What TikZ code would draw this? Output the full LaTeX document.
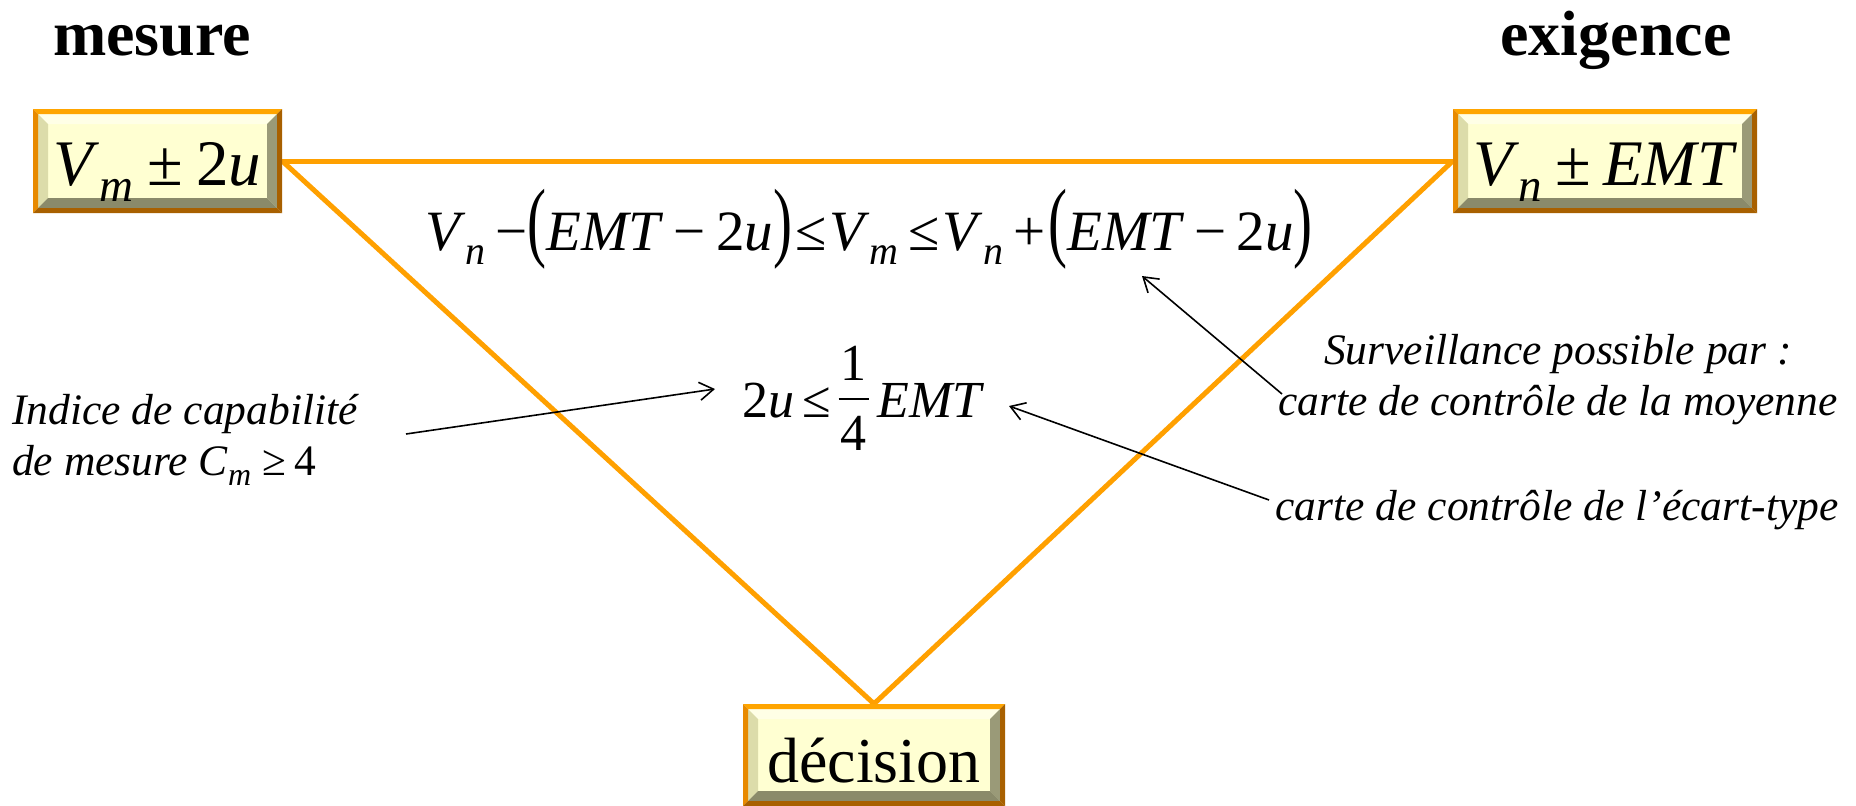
\documentclass[tikz,border=0pt]{standalone}
\usepackage{fontspec}
\setmainfont{Liberation Serif}
\usepackage{graphicx}
\usetikzlibrary{arrows.meta,calc,backgrounds}
\definecolor{ortop}{HTML}{FFA500}
\definecolor{orleft}{HTML}{E88A00}
\definecolor{orbot}{HTML}{A86000}
\definecolor{bvtop}{HTML}{FFFFE6}
\definecolor{bvleft}{HTML}{DCDCAA}
\definecolor{bvright}{HTML}{9A9A78}
\definecolor{bvbot}{HTML}{8A8A6A}
\definecolor{face}{HTML}{FFFFD2}
\definecolor{triline}{HTML}{FFA000}
\newcommand\fsz[1]{\fontsize{#1}{#1}\selectfont}
\newcommand\bigp[1]{\raisebox{0pt}{\scalebox{1}[1.55]{#1}}}
\newcommand\myfrac[2]{\makebox[30pt][l]{%
  \rlap{\makebox[30pt]{\raisebox{37pt}{#1}}}%
  \rlap{\makebox[30pt]{\raisebox{-33pt}{#2}}}%
  \rlap{\raisebox{17pt}{\rule{30pt}{2pt}}}}}
\newcommand\bevfill{%
  \path (path picture bounding box.north west) coordinate (bNW)
        (path picture bounding box.north east) coordinate (bNE)
        (path picture bounding box.south west) coordinate (bSW)
        (path picture bounding box.south east) coordinate (bSE);
  \fill[bvtop] ($(bNW)+(5,5)$) -- ($(bNE)+(-5,5)$) -- ($(bNE)+(-15,15)$) -- ($(bNW)+(15,15)$) -- cycle;
  \fill[bvleft] ($(bNW)+(5,5)$) -- ($(bNW)+(15,15)$) -- ($(bSW)+(15,-15)$) -- ($(bSW)+(5,-5)$) -- cycle;
  \fill[bvright] ($(bNE)+(-5,5)$) -- ($(bSE)+(-5,-5)$) -- ($(bSE)+(-15,-15)$) -- ($(bNE)+(-15,15)$) -- cycle;
  \fill[bvbot] ($(bSW)+(5,-5)$) -- ($(bSE)+(-5,-5)$) -- ($(bSE)+(-15,-15)$) -- ($(bSW)+(15,-15)$) -- cycle;
  \fill[ortop] (bNW) -- (bNE) -- ($(bNE)+(-5,5)$) -- ($(bNW)+(5,5)$) -- cycle;
  \fill[orleft] (bNW) -- ($(bNW)+(5,5)$) -- ($(bSW)+(5,-5)$) -- (bSW) -- cycle;
  \fill[orbot] (bNE) -- (bSE) -- ($(bSE)+(-5,-5)$) -- ($(bNE)+(-5,5)$) -- cycle;
  \fill[orbot] (bSW) -- (bSE) -- ($(bSE)+(-5,-5)$) -- ($(bSW)+(5,-5)$) -- cycle;
}
\tikzset{
  title/.style={font=\fsz{64}\bfseries, inner sep=0},
  bevelbox/.style={inner sep=0, fill=face, path picture={\bevfill}, font=\fsz{65}},
  tri/.style={draw=triline, line width=5pt},
  arr/.style={-{Straight Barb[length=14pt,width=18pt]}, line width=1.6pt},
  note/.style={font=\fontsize{43.5}{51}\selectfont\itshape, inner sep=0},
}
\begin{document}
\begin{tikzpicture}[x=1pt,y=-1pt]
\useasboundingbox (0,0) rectangle (1856,806);
% titles
\node[title, anchor=base] (tmes) at (152,55) {mesure};
\node[title, anchor=base] (texi) at (1616,55) {exigence};
% boxes
\node[bevelbox, minimum width=249, minimum height=104, text height=48, text depth=0] (vm) at (157.5,161)
  {\textit{V}\raisebox{-16pt}{\fsz{47}\textit{m}}\kern14pt±\kern13pt2\textit{u}};
\node[bevelbox, minimum width=304, minimum height=104, text height=48, text depth=0] (vn) at (1605,161)
  {\textit{V}\raisebox{-16pt}{\fsz{47}\textit{n}}\kern13pt±\kern12pt\textit{EMT}};
\node[bevelbox, minimum width=262, minimum height=102, text height=54, text depth=0] (dec) at (874,755)
  {\fsz{64}décision};
% triangle
\begin{scope}[on background layer]
  \draw[tri] (vm.east) -- (vn.west);
  \draw[tri] (vm.east) -- (dec.north);
  \draw[tri] (vn.west) -- (dec.north);
\end{scope}
% formulas
\node[inner sep=0, anchor=base, font=\fsz{57}] (form) at (869,250)
  {\textit{V}\raisebox{-14pt}{\fsz{40}\textit{n}}\kern10pt−\bigp{(}\textit{EMT}\kern10pt−\kern10pt2\textit{u}\bigp{)}\kern3pt≤\kern3pt\textit{V}\raisebox{-14pt}{\fsz{40}\textit{m}}\kern10pt≤\kern3pt\textit{V}\raisebox{-14pt}{\fsz{40}\textit{n}}\kern10pt+\kern3pt\bigp{(}\textit{EMT}\kern10pt−\kern10pt2\textit{u}\bigp{)}};
\node[inner sep=0, anchor=base west, font=\fsz{52}] (ineq) at (742,417)
  {2\textit{u}\kern8pt≤\kern8pt\myfrac{1}{4}\kern9pt\textit{EMT}};
% notes
\node[note, align=left, anchor=north west] (capa) at (12,394)
  {Indice de capabilité\\de mesure \textit{C}\raisebox{-10pt}{\fsz{32}\textit{m}}\kern11pt\upshape ≥\kern9pt4};
\node[note, align=center, anchor=north] (surv) at (1558,334)
  {Surveillance possible par :\\carte de contrôle de la moyenne};
\node[note, anchor=base] (ecart) at (1557,520)
  {carte de contrôle de l’écart-type};
% arrows
\coordinate (a1s) at (406,434);
\coordinate (a1e) at (715,389);
\coordinate (a2s) at (1282,394);
\coordinate (a2e) at (1142,276);
\coordinate (a3s) at (1269,500);
\coordinate (a3e) at (1009,406);
\draw[arr] (a1s) -- (a1e);
\draw[arr] (a2s) -- (a2e);
\draw[arr] (a3s) -- (a3e);
\end{tikzpicture}
\end{document}
